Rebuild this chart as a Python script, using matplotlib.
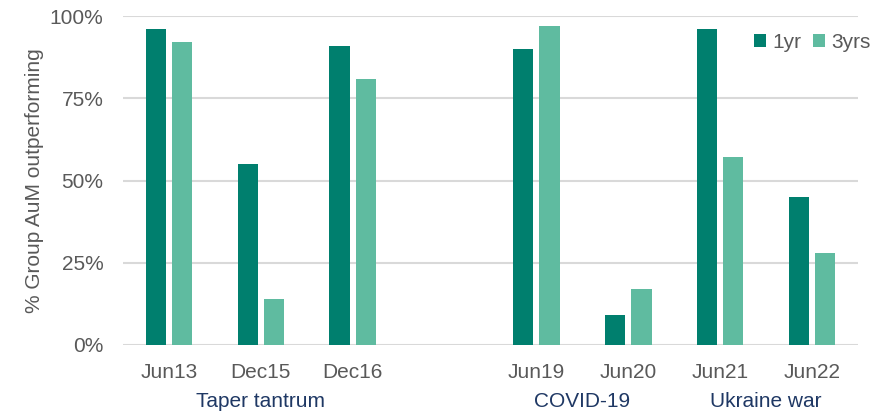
import matplotlib
matplotlib.use("Agg")
import matplotlib.pyplot as plt
import numpy as np

plt.rcParams['font.family'] = ['Liberation Sans', 'DejaVu Sans']

categories = ["Jun13", "Dec15", "Dec16", "", "Jun19", "Jun20", "Jun21", "Jun22"]
one_yr = [96, 55, 91, np.nan, 90, 9, 96, 45]
three_yrs = [92, 14, 81, np.nan, 97, 17, 57, 28]
groups = ["Taper tantrum", "COVID-19", "Ukraine war"]
group_pos = [1, 4.5, 6.5]
yticks = [0, 25, 50, 75, 100]
ytick_labels = ["0%", "25%", "50%", "75%", "100%"]

c1 = "#007F6E"
c3 = "#5FBBA0"
txt = "#595959"
navy = "#1F3864"

fig = plt.figure(figsize=(8.91, 4.15), dpi=100)
ax = fig.add_axes([0.138, 0.1687, 0.825, 0.7927])

x = np.arange(len(categories))
w = 0.22
off = 0.143
ax.bar(x - off, one_yr, width=w, color=c1, label="1yr", zorder=3)
ax.bar(x + off, three_yrs, width=w, color=c3, label="3yrs", zorder=3)

ax.set_xlim(-0.5, len(categories) - 0.5)
ax.set_ylim(0, 100)
ax.set_yticks(yticks)
ax.set_yticklabels(ytick_labels)
ax.set_xticks(x)
ax.set_xticklabels(categories)
ax.tick_params(axis='both', length=0, labelsize=15, colors=txt)
ax.tick_params(axis='x', pad=13)
ax.tick_params(axis='y', pad=14)
ax.grid(axis='y', color="#D9D9D9", linewidth=1.5, zorder=0)
ax.set_axisbelow(True)
for s in ax.spines.values():
    s.set_visible(False)

ax.set_ylabel("% Group AuM outperforming", fontsize=15, color=txt, labelpad=4)

for g, p in zip(groups, group_pos):
    ax.text(p, -0.172, g, transform=ax.get_xaxis_transform(), ha='center', va='center',
            fontsize=15, color=navy)

leg = fig.legend(loc='center right', bbox_to_anchor=(0.998, 0.898), ncol=2, frameon=False,
                 fontsize=15, handlelength=0.55, handleheight=0.55, handletextpad=0.3,
                 columnspacing=0.6, labelcolor=txt)

fig.savefig("out.png", dpi=100)
